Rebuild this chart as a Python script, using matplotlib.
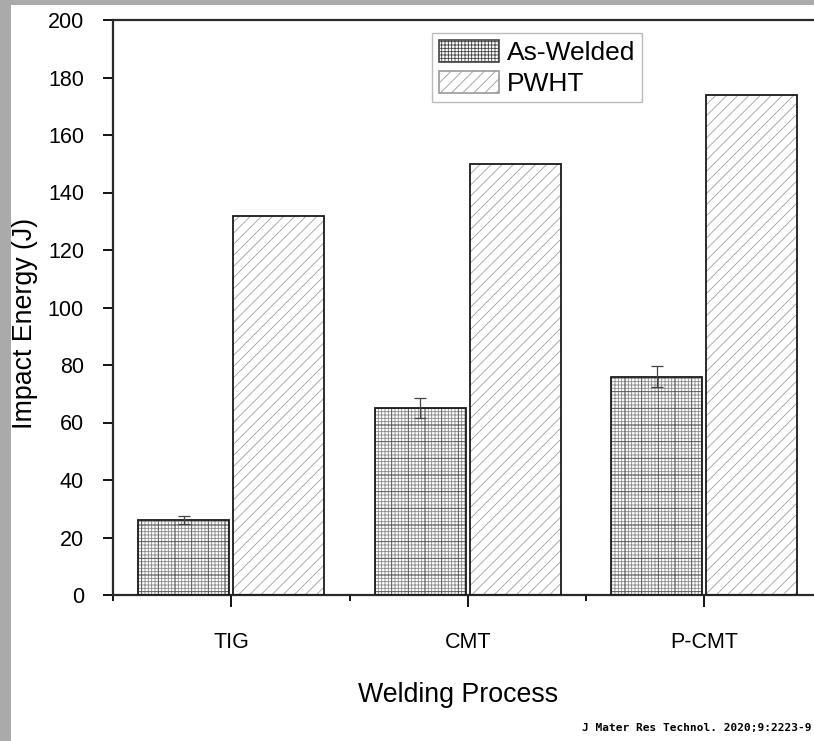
import numpy as np
import matplotlib
matplotlib.use("Agg")
import matplotlib.pyplot as plt
from matplotlib.patches import Rectangle

plt.rcParams["font.family"] = ["Liberation Sans", "DejaVu Sans"]
plt.rcParams["hatch.linewidth"] = 0.6

# 数据
processes = ["TIG", "CMT", "P-CMT"]
as_welded = [26, 65, 76]
as_welded_err = [1.4, 3.5, 3.5]
pwht = [132, 150, 174]

x = np.arange(len(processes))
width = 0.385
offset = 0.2

fig = plt.figure(figsize=(8.14, 7.41), dpi=100)
fig.patch.set_facecolor("#aaaaaa")
# 白色背景（左侧和顶部留灰色边框）
fig.patches.append(Rectangle((11 / 814, 0), 1, 1 - 5 / 741, transform=fig.transFigure,
                             facecolor="white", edgecolor="none", zorder=-10))

ax = fig.add_axes([113 / 814, 1 - 595 / 741, (822.5 - 113) / 814, (595 - 20) / 741])
ax.set_facecolor("white")

# As-Welded：细网格 + 粗网格
ax.bar(x - offset, as_welded, width, facecolor="white", edgecolor="#8a8a8a",
       hatch="+++++", linewidth=0, zorder=2)
ax.bar(x - offset, as_welded, width, facecolor="none", edgecolor="#5a5a5a",
       hatch="+", linewidth=0, zorder=2)
ax.bar(x - offset, as_welded, width, facecolor="none", edgecolor="#1a1a1a",
       linewidth=1.3, zorder=3)
ax.errorbar(x - offset, as_welded, yerr=as_welded_err, fmt="none", ecolor="#444444",
            elinewidth=0.9, capsize=4, capthick=0.9, zorder=4)

# PWHT：斜线
ax.bar(x + offset, pwht, width, facecolor="white", edgecolor="#a0a0a0",
       hatch="///", linewidth=0, zorder=2)
ax.bar(x + offset, pwht, width, facecolor="none", edgecolor="#1a1a1a",
       linewidth=1.3, zorder=3)

ax.set_xlim(-0.5, 2.5)
ax.set_ylim(0, 200)
ax.set_yticks(np.arange(0, 201, 20))
ax.set_xticks(x)
ax.set_xticklabels(processes, fontsize=15.5)
ax.set_xticks([-0.5, 0.5, 1.5, 2.5], minor=True)
ax.tick_params(axis="y", direction="out", length=7.2, width=1.3, labelsize=15.5, pad=13.7)
ax.tick_params(axis="x", which="major", direction="out", length=8.6, width=1.3, pad=18)
ax.tick_params(axis="x", which="minor", direction="out", length=4.3, width=1.3)

for s in ["left", "bottom", "top"]:
    ax.spines[s].set_linewidth(1.6)
    ax.spines[s].set_color("#2a2a2a")
ax.spines["right"].set_visible(False)

ax.set_ylabel("Impact Energy (J)", fontsize=19.3)
ax.set_xlabel("Welding Process", fontsize=19.3)
ax.yaxis.set_label_coords(-0.106, 0.473)
ax.xaxis.set_label_coords(0.486, -0.151)

# 图例
h1 = Rectangle((0, 0), 1, 1, facecolor="white", edgecolor="#444444", hatch="+++++", linewidth=1.2)
h2 = Rectangle((0, 0), 1, 1, facecolor="white", edgecolor="#999999", hatch="///", linewidth=1.2)
leg = ax.legend([h1, h2], ["As-Welded", "PWHT"], loc="upper left",
                bbox_to_anchor=(0.4496, 0.977), borderaxespad=0, fontsize=19,
                frameon=True, fancybox=False, edgecolor="#aaaaaa",
                handlelength=2.3, handleheight=0.9, handletextpad=0.3,
                borderpad=0.25, labelspacing=0.22)
leg.get_frame().set_linewidth(1.0)

fig.text(812 / 814, 1 - 728 / 741, "J Mater Res Technol. 2020;9:2223-9",
         ha="right", va="center", fontsize=8, family="DejaVu Sans Mono", weight="bold")

fig.savefig("out.png", dpi=100, facecolor=fig.get_facecolor())
